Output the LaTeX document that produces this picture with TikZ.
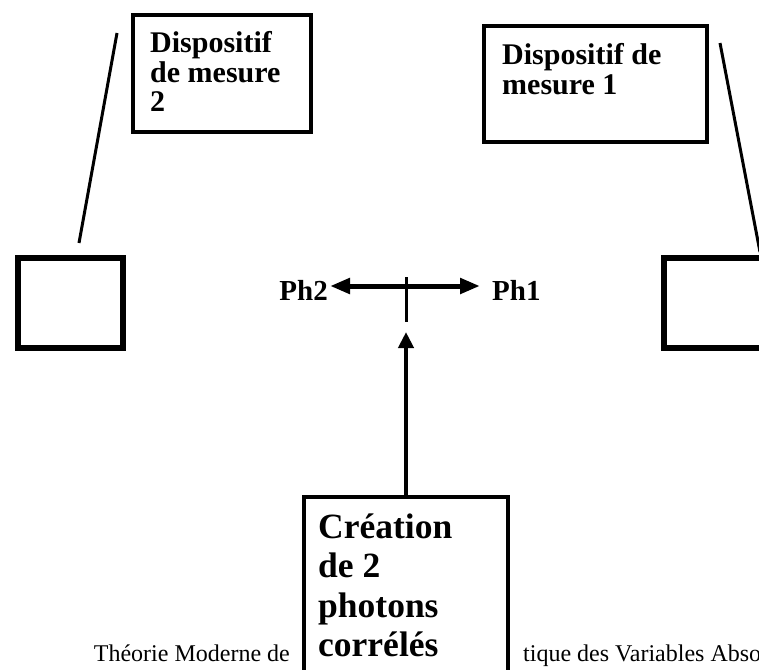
\documentclass[tikz,border=0pt]{standalone}
\usepackage{fontspec}
\setmainfont{Liberation Serif}
\usetikzlibrary{arrows.meta}

\tikzset{
  devbox/.style={draw, line width=4pt, anchor=north west, inner sep=0pt},
  detbox/.style={draw, line width=6pt, anchor=north west, inner sep=0pt,
    minimum width=105pt, minimum height=90pt},
  devlabel/.style={anchor=north west, inner sep=0pt, align=left,
    font=\fontsize{30}{29.5}\selectfont\bfseries},
  srclabel/.style={anchor=north west, inner sep=0pt, align=left,
    font=\fontsize{35.5}{39.5}\selectfont\bfseries},
  phlabel/.style={inner sep=0pt, font=\fontsize{29}{34}\selectfont\bfseries},
  footer/.style={inner sep=0pt, font=\fontsize{24}{28}\selectfont},
  lead/.style={line width=3pt},
  tip/.style={Triangle[length=20pt, width=15pt]}
}

\begin{document}
\begin{tikzpicture}[x=1pt, y=-1pt]
  \useasboundingbox (0,0) rectangle (759,669);

  \node[footer, anchor=base east] (footl) at (290,661) {Théorie Moderne de};
  \node[footer, anchor=base west] (footr) at (523,661) {tique des Variables Abso};

  \node[devbox, minimum width=178pt, minimum height=117pt] (dev2) at (131,13) {};
  \node[devlabel] (dev2lbl) at (150,31.5) {Dispositif\\de mesure\\2};
  \node[devbox, minimum width=223pt, minimum height=116pt] (dev1) at (482,24) {};
  \node[devlabel] (dev1lbl) at (502,43.5) {Dispositif de\\mesure 1};

  \node[detbox] (det2) at (15,255) {};
  \node[detbox] (det1) at (661,255) {};

  \coordinate (lead2a) at (117,33);
  \coordinate (lead2b) at (79,243);
  \coordinate (lead1a) at (720,43);
  \coordinate (lead1b) at (760,252);
  \draw[lead] (lead2a) -- (lead2b);
  \draw[lead] (lead1a) -- (lead1b);

  \coordinate (split) at (406,286);
  \coordinate (ticktop) at (406,277);
  \coordinate (tickbot) at (406,322);
  \coordinate (emit) at (406,332);

  \node[phlabel, anchor=base east] (ph2) at (328,300) {Ph2};
  \node[phlabel, anchor=base west] (ph1) at (492,300) {Ph1};
  \draw[line width=5pt, {Triangle[length=20pt, width=15pt]}-{Triangle[length=20pt, width=15pt]}]
    ([xshift=2pt]ph2.east |- split) -- ([xshift=-12pt]ph1.west |- split);
  \draw[line width=3pt] (ticktop) -- (tickbot);

  \draw[line width=4pt, -{Triangle[length=16pt, width=15pt]}] (406,500) -- (emit);

  \node[devbox, fill=white, minimum width=204pt, minimum height=240pt] (src) at (302,495) {};
  \node[srclabel] (srclbl) at (318,513.5) {Création\\de 2\\photons\\corrélés};
\end{tikzpicture}
\end{document}
